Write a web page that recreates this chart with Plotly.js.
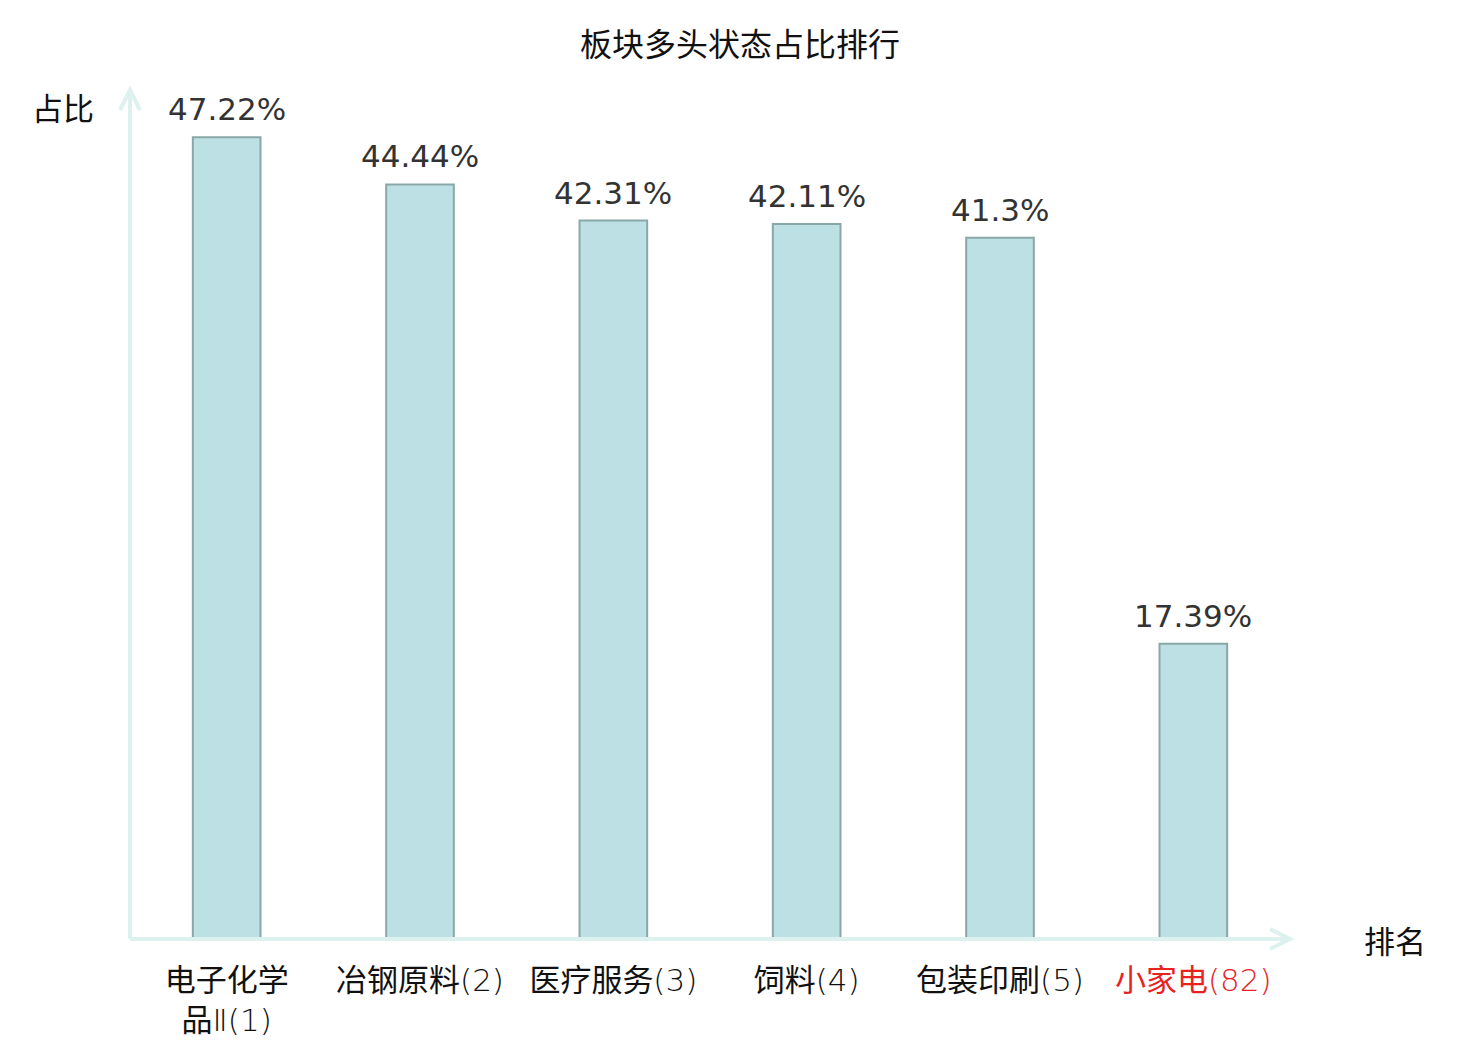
<!DOCTYPE html>
<html>
<head>
<meta charset="utf-8">
<script src="https://cdn.plot.ly/plotly-3.0.1.min.js"></script>
<style>
  html, body {margin:0; padding:0; background:#fff;}
  #chart {width:1480px; height:1040px;}
</style>
</head>
<body>
<div id="chart"></div>
<script>
const sectors = ["电子化学<br>品Ⅱ", "冶钢原料", "医疗服务", "饲料", "包装印刷", "小家电"];
const ranks = [1, 2, 3, 4, 5, 82];
const shares = [47.22, 44.44, 42.31, 42.11, 41.3, 17.39];
const highlightIndex = 5; // the sector of interest, shown in red

const CJK_FONT = "Noto Sans CJK SC, DejaVu Sans, sans-serif";
const AXIS_CLR = "#ddf1ee";
const LIGHT = "font-family:'DejaVu Sans';font-weight:200";

const tickText = sectors.map((s, i) => {
    const name = s.replace(/Ⅱ/g, `<span style="${LIGHT}">Ⅱ</span>`);
    const label = `${name}<span style="${LIGHT}">(${ranks[i]})</span>`;
    return i === highlightIndex ? `<span style="color:#e8231f">${label}</span>` : label;
});
const xPos = sectors.map((s, i) => i);

const barTrace = {
    x: xPos,
    y: shares,
    type: "bar",
    width: 0.35,
    marker: {color: "#bce0e3", line: {color: "#8aa7a7", width: 2}},
    hoverinfo: "skip"
};

// value labels above the bars
const valueLabels = shares.map((v, i) => ({
    text: `${v}%`, x: xPos[i], y: v, xref: "x", yref: "y",
    yanchor: "bottom", yshift: 8, showarrow: false,
    font: {size: 31, family: "DejaVu Sans, sans-serif", color: "#333333"}
}));

const layout = {
    width: 1480,
    height: 1040,
    margin: {l: 130, r: 190, t: 90, b: 101},
    paper_bgcolor: "#ffffff",
    plot_bgcolor: "#ffffff",
    showlegend: false,
    title: {
        text: "板块多头状态占比排行",
        font: {size: 32, family: CJK_FONT, color: "#111111"},
        x: 0.5, xref: "container", xanchor: "center",
        y: 42, yref: "container", yanchor: "middle"
    },
    xaxis: {
        range: [-0.5, 5.5],
        tickvals: xPos,
        ticktext: tickText,
        tickfont: {size: 31, family: CJK_FONT, color: "#111111"},
        ticklabelstandoff: 20,
        showgrid: false,
        zeroline: false,
        showline: false,
        ticks: ""
    },
    yaxis: {
        range: [0, 50],
        showticklabels: false,
        showgrid: false,
        zeroline: false,
        showline: false,
        ticks: ""
    },
    shapes: [
        // axis lines
        {type: "line", xref: "paper", yref: "paper", x0: 0, x1: 1, y0: 0, y1: 0,
         line: {color: AXIS_CLR, width: 4}},
        {type: "line", xref: "paper", yref: "paper", x0: 0, x1: 0, y0: 0, y1: 1,
         line: {color: AXIS_CLR, width: 4}},
        // open arrow heads
        {type: "path", xref: "paper", yref: "paper", xsizemode: "pixel", ysizemode: "pixel",
         xanchor: 1, yanchor: 0, path: "M-20,10 L0,0 L-20,-10",
         line: {color: AXIS_CLR, width: 4}},
        {type: "path", xref: "paper", yref: "paper", xsizemode: "pixel", ysizemode: "pixel",
         xanchor: 0, yanchor: 1, path: "M-10,-20 L0,0 L10,-20",
         line: {color: AXIS_CLR, width: 4}}
    ],
    annotations: valueLabels.concat([
        {text: "占比", xref: "paper", yref: "paper", x: -0.086, y: 0.98,
         xanchor: "left", yanchor: "middle", showarrow: false,
         font: {size: 31, family: CJK_FONT, color: "#111111"}},
        {text: "排名", xref: "paper", yref: "paper", x: 1.062, y: 0,
         xanchor: "left", yanchor: "middle", showarrow: false,
         font: {size: 31, family: CJK_FONT, color: "#111111"}}
    ])
};

Plotly.newPlot("chart", [barTrace], layout, {staticPlot: true});
</script>
</body>
</html>
